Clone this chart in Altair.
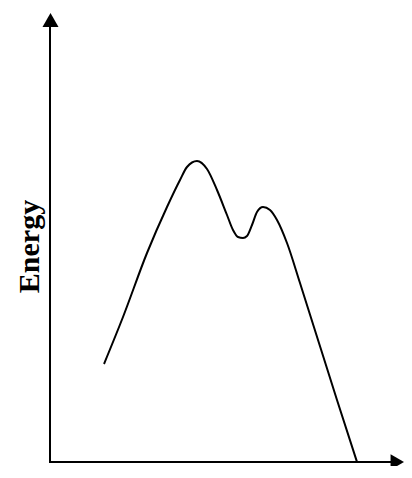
import altair as alt
import pandas as pd

# reaction-coordinate positions and energies (arbitrary units)
coord = [54, 73, 97, 117, 130, 137, 147, 157, 167, 177, 183, 188, 193, 197, 202, 207, 213, 220, 227, 237, 250, 287, 307]
energy = [107, 154, 218, 264, 291, 304, 310, 302, 281, 256, 241, 234, 233, 235, 246, 259, 264, 261, 251, 228, 188, 71, 9]

axis_label = ["Energy"]
baseline_level = [9]

X_DOM = [-42, 354]
Y_DOM = [5, 463]

xs = alt.Scale(domain=X_DOM, nice=False, zero=False)
ys = alt.Scale(domain=Y_DOM, nice=False, zero=False)

curve_df = pd.DataFrame({"x": coord, "e": energy})

curve = alt.Chart(curve_df).mark_line(color="black", strokeWidth=2, interpolate="monotone").encode(
    x=alt.X("x:Q", scale=xs, axis=None),
    y=alt.Y("e:Q", scale=ys, axis=None),
)

yaxis_df = pd.DataFrame({"x": [0], "y0": baseline_level, "y1": [444]})
yaxis = alt.Chart(yaxis_df).mark_rule(color="black", strokeWidth=2).encode(
    x=alt.X("x:Q", scale=xs, axis=None),
    y=alt.Y("y0:Q", scale=ys, axis=None),
    y2="y1:Q",
)

xaxis_df = pd.DataFrame({"y": baseline_level, "x0": [-1], "x1": [342]})
xaxis = alt.Chart(xaxis_df).mark_rule(color="black", strokeWidth=2).encode(
    y=alt.Y("y:Q", scale=ys, axis=None),
    x=alt.X("x0:Q", scale=xs, axis=None),
    x2="x1:Q",
)

up_df = pd.DataFrame({"x": [0.5], "y": [451]})
up_arrow = alt.Chart(up_df).mark_point(shape="triangle-up", filled=True, color="black", size=256, opacity=1).encode(
    x=alt.X("x:Q", scale=xs, axis=None),
    y=alt.Y("y:Q", scale=ys, axis=None),
)

right_df = pd.DataFrame({"x": [347.3], "y": baseline_level})
right_arrow = alt.Chart(right_df).mark_point(shape="triangle-right", filled=True, color="black", size=240, opacity=1).encode(
    x=alt.X("x:Q", scale=xs, axis=None),
    y=alt.Y("y:Q", scale=ys, axis=None),
)

label_df = pd.DataFrame({"x": [-11], "y": [224.5], "t": axis_label})
label = alt.Chart(label_df).mark_text(
    angle=270, font="Liberation Serif", fontWeight="bold", fontSize=30,
    align="center", baseline="alphabetic", color="black",
).encode(
    x=alt.X("x:Q", scale=xs, axis=None),
    y=alt.Y("y:Q", scale=ys, axis=None),
    text="t:N",
)

chart = alt.layer(yaxis, xaxis, curve, up_arrow, right_arrow, label).properties(
    width=396, height=458, padding=0, autosize=alt.AutoSizeParams(type="none"),
    background="white",
).configure_view(stroke=None)

chart.save("out.html", embed_options={"renderer": "svg", "actions": False})
